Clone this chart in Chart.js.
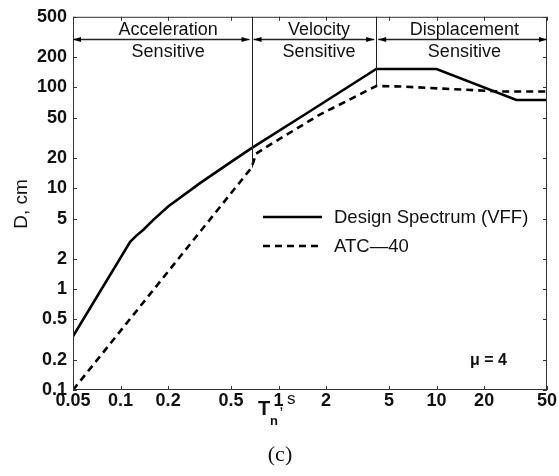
<!DOCTYPE html>
<html>
<head>
<meta charset="utf-8">
<script src="https://cdn.jsdelivr.net/npm/chart.js@4.4.0/dist/chart.umd.min.js"></script>
<style>
  html, body { margin: 0; padding: 0; background: #fff; }
  #wrap { width: 559px; height: 476px; }
</style>
</head>
<body>
<div id="wrap"><canvas id="c" width="559" height="476"></canvas></div>
<script>
// period (s) / displacement (cm) pairs
const vffT = [0.05, 0.115, 0.125, 0.14, 0.16, 0.2, 0.32, 0.52, 0.675, 1.5, 4.15, 10, 32, 50];
const vffD = [0.34, 2.95, 3.35, 3.9, 4.8, 6.6, 11.3, 19, 25, 55, 152, 152, 75, 75];
const atcT = [0.05, 0.675, 0.72, 0.85, 1.8, 4.15, 6, 11, 25, 50];
const atcD = [0.1, 16, 22, 26, 53, 103, 102, 97, 91, 91];

const xTicks = [0.05, 0.1, 0.2, 0.5, 1, 2, 5, 10, 20, 50];
const yTicks = [0.1, 0.2, 0.5, 1, 2, 5, 10, 20, 50, 100, 200, 500];

// spectral regions
const regionBounds = [0.05, 0.675, 4.15, 50];
const regionDividerDepth = [16, 103];
const regionNames = ['Acceleration', 'Velocity', 'Displacement'];
const regionLabelT = [0.2, 1.8, 15];
const arrowLevel = 300;

const seriesNames = ['Design Spectrum (VFF)', 'ATC\u201440'];

const pts = (xs, ys) => xs.map((x, i) => ({x: x, y: ys[i]}));
const SANS = '"Liberation Sans", Arial, sans-serif';

const annotate = {
  id: 'annotate',
  afterDraw(chart) {
    const ctx = chart.ctx, xs = chart.scales.x, ys = chart.scales.y, a = chart.chartArea;
    ctx.save();

    // frame + inward ticks
    ctx.strokeStyle = '#333';
    ctx.lineWidth = 1;
    ctx.strokeRect(a.left + 0.5, a.top + 0.5, a.right - a.left - 1, a.bottom - a.top - 1);
    ctx.beginPath();
    xTicks.forEach(v => {
      const px = Math.round(xs.getPixelForValue(v)) + 0.5;
      ctx.moveTo(px, a.bottom); ctx.lineTo(px, a.bottom - 4);
      ctx.moveTo(px, a.top); ctx.lineTo(px, a.top + 4);
    });
    yTicks.forEach(v => {
      const py = Math.round(ys.getPixelForValue(v)) + 0.5;
      ctx.moveTo(a.left, py); ctx.lineTo(a.left + 4, py);
      ctx.moveTo(a.right, py); ctx.lineTo(a.right - 4, py);
    });
    ctx.stroke();

    // region dividers
    ctx.strokeStyle = '#222';
    ctx.beginPath();
    regionDividerDepth.forEach((d, i) => {
      const px = Math.round(xs.getPixelForValue(regionBounds[i + 1])) + 0.5;
      ctx.moveTo(px, a.top); ctx.lineTo(px, ys.getPixelForValue(d));
    });
    ctx.stroke();

    // double arrows across each region
    const ay = Math.round(ys.getPixelForValue(arrowLevel)) + 0.5;
    ctx.fillStyle = '#000';
    ctx.lineWidth = 1.5;
    const head = (x, dir) => {
      ctx.beginPath();
      ctx.moveTo(x, ay);
      ctx.lineTo(x - dir * 8, ay - 2.5);
      ctx.lineTo(x - dir * 8, ay + 2.5);
      ctx.closePath();
      ctx.fill();
    };
    for (let i = 0; i < 3; i++) {
      const x0 = xs.getPixelForValue(regionBounds[i]) + (i === 0 ? 0 : 2);
      const x1 = xs.getPixelForValue(regionBounds[i + 1]) - (i === 2 ? 0 : 2);
      ctx.beginPath(); ctx.moveTo(x0, ay); ctx.lineTo(x1, ay); ctx.stroke();
      head(x0, -1); head(x1, 1);
    }

    // region labels
    ctx.fillStyle = '#111';
    ctx.font = '18px ' + SANS;
    ctx.textAlign = 'center';
    ctx.textBaseline = 'middle';
    regionNames.forEach((n, i) => {
      const px = xs.getPixelForValue(regionLabelT[i]);
      ctx.fillText(n, px, a.top + 13);
      ctx.fillText('Sensitive', px, a.top + 35);
    });

    // legend
    const ds = chart.data.datasets;
    const lx0 = 263, lx1 = 322, lys = [217, 246];
    ctx.font = '18.5px ' + SANS;
    ds.forEach((d, i) => {
      ctx.save();
      ctx.strokeStyle = d.borderColor;
      ctx.lineWidth = d.borderWidth;
      ctx.setLineDash(d.borderDash || []);
      ctx.beginPath(); ctx.moveTo(lx0, lys[i]); ctx.lineTo(lx1, lys[i]); ctx.stroke();
      ctx.restore();
      ctx.textAlign = 'left';
      ctx.fillText(d.label, 334, lys[i] + 1);
    });

    // ductility note
    ctx.font = 'bold 16px ' + SANS;
    ctx.textAlign = 'right';
    ctx.fillText('\u03bc = 4', 507, 361);

    // axis titles
    ctx.font = '19px ' + SANS;
    ctx.save();
    ctx.translate(22, 204);
    ctx.rotate(-Math.PI / 2);
    ctx.textAlign = 'center';
    ctx.fillText('D, cm', 0, 0);
    ctx.restore();

    ctx.textAlign = 'left';
    ctx.font = 'bold 20px ' + SANS;
    ctx.fillText('T', 258, 409);
    ctx.font = 'bold 13px ' + SANS;
    ctx.fillText('n', 270, 421);
    ctx.font = '17px ' + SANS;
    ctx.fillText(',', 279, 404);
    ctx.fillText('s', 287, 399);

    ctx.font = '22px "Liberation Serif", "Times New Roman", serif';
    ctx.textAlign = 'center';
    ctx.fillText('(c)', 280, 455);

    ctx.restore();
  }
};

const tickFont = {family: SANS, size: 18, weight: 'bold'};

new Chart(document.getElementById('c'), {
  type: 'line',
  data: {
    datasets: [
      {label: seriesNames[0], data: pts(vffT, vffD), borderColor: '#000', borderWidth: 2.6, pointRadius: 0, tension: 0},
      {label: seriesNames[1], data: pts(atcT, atcD), borderColor: '#000', borderWidth: 2.6, borderDash: [7, 5], pointRadius: 0, tension: 0}
    ]
  },
  options: {
    responsive: false,
    animation: false,
    layout: {padding: {left: 0, top: 15, right: 12, bottom: 0}},
    plugins: {legend: {display: false}, tooltip: {enabled: false}},
    scales: {
      x: {
        type: 'logarithmic', min: 0.05, max: 50,
        grid: {display: false, drawTicks: false},
        border: {display: false},
        afterBuildTicks: s => { s.ticks = xTicks.map(v => ({value: v})); },
        afterFit: s => { s.height = 86; },
        ticks: {color: '#111', font: tickFont, padding: 0, maxRotation: 0, autoSkip: false, callback: v => String(v)}
      },
      y: {
        type: 'logarithmic', min: 0.1, max: 500,
        grid: {display: false, drawTicks: false},
        border: {display: false},
        afterBuildTicks: s => { s.ticks = yTicks.map(v => ({value: v})); },
        afterFit: s => { s.width = 73; },
        ticks: {color: '#111', font: tickFont, padding: 6, autoSkip: false, callback: v => String(v)}
      }
    }
  },
  plugins: [annotate]
});
</script>
</body>
</html>
